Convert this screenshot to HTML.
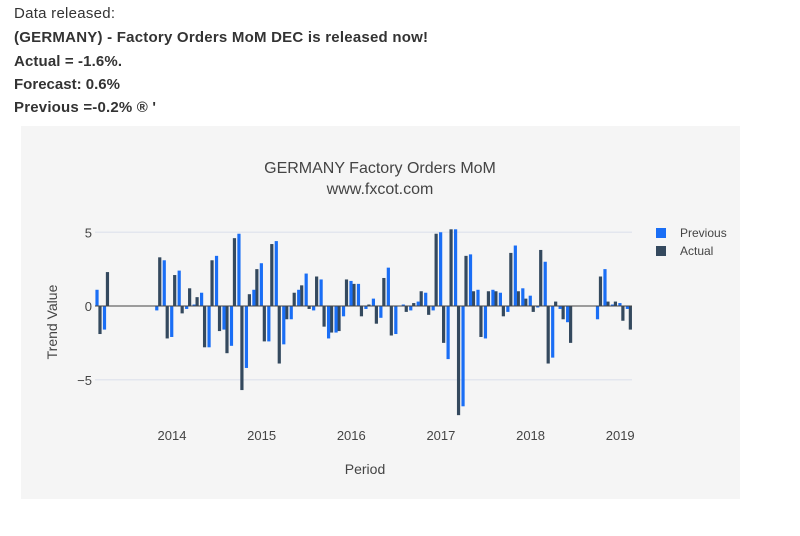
<!DOCTYPE html>
<html><head><meta charset="utf-8"><style>
html,body{margin:0;padding:0;background:#fff;width:800px;height:536px;overflow:hidden}
svg{display:block;font-family:"Liberation Sans",sans-serif}
</style></head><body>
<svg id="root" width="800" height="536">
<g fill="#333" font-size="15">
<text x="14" y="18" textLength="101">Data released:</text>
<text x="14" y="42" font-weight="bold" textLength="414">(GERMANY) - Factory Orders MoM DEC is released now!</text>
<text x="14" y="66" font-weight="bold" textLength="108">Actual = -1.6%.</text>
<text x="14" y="89" font-weight="bold" textLength="106">Forecast: 0.6%</text>
<text x="14" y="112" font-weight="bold" textLength="142">Previous =-0.2% ® '</text>
</g>
<rect x="21" y="126" width="719" height="373" fill="#f5f5f5"/>
<text x="380" y="173" text-anchor="middle" font-size="16" fill="#444">GERMANY Factory Orders MoM</text>
<text x="380" y="194" text-anchor="middle" font-size="16" fill="#444">www.fxcot.com</text>
<g id="grid"></g>
<g id="bars"></g>
<g id="axes"></g>
<text transform="translate(57,322) rotate(-90)" text-anchor="middle" font-size="14" fill="#444">Trend Value</text>
<text x="365" y="474" text-anchor="middle" font-size="14" fill="#444">Period</text>
<g>
<rect x="656" y="228" width="10" height="10" fill="#1a6ef5"/>
<text x="680" y="237" font-size="12" fill="#444">Previous</text>
<rect x="656" y="246" width="10" height="10" fill="#34495e"/>
<text x="680" y="255" font-size="12" fill="#444">Actual</text>
</g>
</svg>
<script>
// month index k runs from -1 (Feb 2013) to 71 (Jan 2019)
const actual = [null,-1.9,2.3,null,null,null,null,null,null,3.3,-2.2,2.1,-0.5,1.2,0.6,-2.8,3.1,-1.7,-3.2,4.6,-5.7,0.8,2.5,-2.4,4.2,-3.9,-0.9,0.9,1.4,-0.2,2.0,-1.4,-1.8,-1.7,1.8,1.5,-0.7,0.1,-1.2,1.9,-2.0,null,-0.4,0.2,1.0,-0.6,4.9,-2.5,5.2,-7.4,3.4,1.0,-2.1,1.0,1.0,-0.7,3.6,1.0,0.5,-0.4,3.8,-3.9,0.3,-0.9,-2.5,null,null,null,2.0,0.3,0.3,-1.0,-1.6];
const previous = [1.1,-1.6,null,null,null,null,null,null,-0.3,3.1,-2.1,2.4,-0.2,0.1,0.9,-2.8,3.4,-1.6,-2.7,4.9,-4.2,1.1,2.9,-2.4,4.4,-2.6,-0.9,1.1,2.2,-0.3,1.8,-2.2,-1.8,-0.7,1.7,1.5,-0.2,0.5,-0.8,2.6,-1.9,0.1,-0.3,0.3,0.9,-0.3,5.0,-3.6,5.2,-6.8,3.5,1.1,-2.2,1.1,0.9,-0.4,4.1,1.2,0.7,-0.1,3.0,-3.5,-0.2,-1.1,null,null,null,-0.9,2.5,0.1,0.2,-0.2,null];
const yTicks = [5,0,-5];
const yTickLabels = ["5","0","−5"];
const xTickYears = [2014,2015,2016,2017,2018,2019];
const firstK = -1;
const NS="http://www.w3.org/2000/svg";
// months since 2013-03-01
function xs(t){return 97.3 + t*7.47;}
function ys(v){return 306 - v*14.75;}
function yearToT(y){return (y-2013)*12-2;}
const grid=document.getElementById('grid'),bars=document.getElementById('bars'),axes=document.getElementById('axes');
function mk(tag,attrs,parent){const e=document.createElementNS(NS,tag);for(const k in attrs)e.setAttribute(k,attrs[k]);parent.appendChild(e);return e;}
yTicks.forEach((v,i)=>{
  if(v!==0){
    const l=mk('line',{x1:95,x2:632,y1:ys(v),y2:ys(v),stroke:'#e3e6ee','stroke-width':1.5},grid);
    
    
  }
  const t=mk('text',{x:92,y:ys(v)+5,'text-anchor':'end','font-size':13,fill:'#444'},axes);
  t.textContent=yTickLabels[i];
  
  
});
xTickYears.forEach(y=>{
  const t=mk('text',{x:xs(yearToT(y)),y:440,'text-anchor':'middle','font-size':13,fill:'#444'},axes);
  t.textContent=String(y);
  
  
});
function drawSeries(arr,off,color,name){
  arr.forEach((v,i)=>{
    if(v===null||v===undefined)return;
    const k=i+firstK;
    const cx=xs(k+0.36)+off;
    const y0=ys(0),y1=ys(v);
    const r=mk('rect',{x:cx-1.6,y:Math.min(y0,y1),width:3.2,height:Math.max(Math.abs(y1-y0),0.8),fill:color},bars);
    
    
  });
}
drawSeries(actual,0,'#34495e','bar-actual');
drawSeries(previous,4.5,'#1a6ef5','bar-previous');
const z=mk('line',{x1:95,x2:632,y1:ys(0),y2:ys(0),stroke:'#444','stroke-width':1},axes);


</script>
</body></html>
